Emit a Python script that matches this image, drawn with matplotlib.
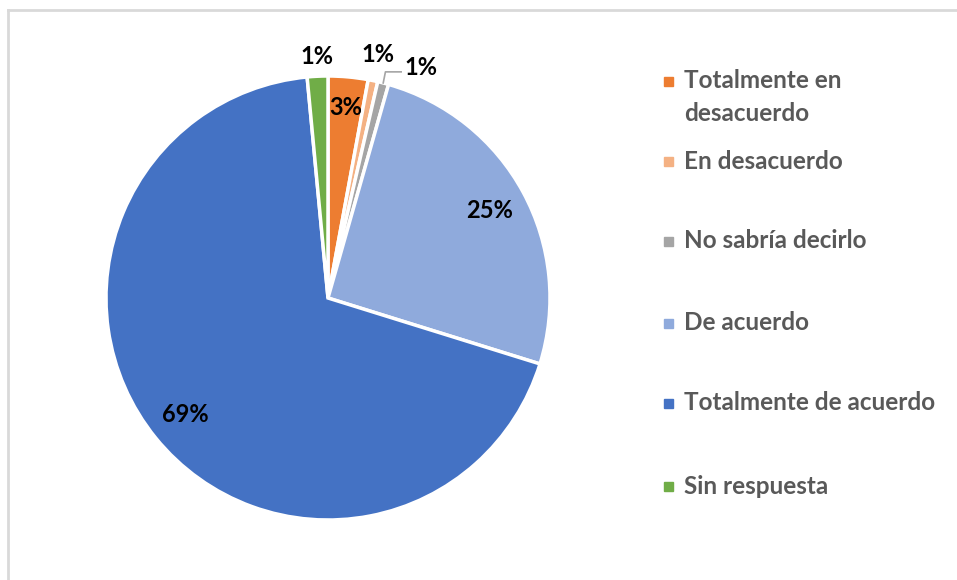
import numpy as np
import matplotlib.pyplot as plt
from matplotlib.patches import Rectangle
from matplotlib.lines import Line2D

# Data
categories = ["Totalmente en\ndesacuerdo", "En desacuerdo", "No sabría decirlo",
              "De acuerdo", "Totalmente de acuerdo", "Sin respuesta"]
values = [2.9, 0.7, 0.8, 25.4, 68.7, 1.5]
pct_labels = ["3%", "1%", "1%", "25%", "69%", "1%"]
colors = ["#ED7D31", "#F4B183", "#A5A5A5", "#8FAADC", "#4472C4", "#70AD47"]

plt.rcParams['font.family'] = ['Lato', 'DejaVu Sans']

W, H = 957, 580
fig = plt.figure(figsize=(W / 100, H / 100), dpi=100)

# light grey frame (only top/left visible in the crop)
fig.add_artist(Line2D([8 / W, 8 / W], [0, 1 - 10 / H], color="#D9D9D9", lw=2, transform=fig.transFigure))
fig.add_artist(Line2D([8 / W, 1], [1 - 10 / H, 1 - 10 / H], color="#D9D9D9", lw=2, transform=fig.transFigure))

cx, cy, r = 328, 298, 222
ax = fig.add_axes([(cx - r) / W, (H - cy - r) / H, 2 * r / W, 2 * r / H])
wedges, _ = ax.pie(values, colors=colors, startangle=90, counterclock=False,
                   wedgeprops=dict(edgecolor="white", linewidth=2.5))
ax.set_xlim(-1, 1)
ax.set_ylim(-1, 1)
ax.set_aspect("equal")
ax.axis("off")

# data labels
label_r = [0.86, 1.12, 1.12, 0.83, 0.83, 1.09]
for i, w in enumerate(wedges):
    ang = np.deg2rad((w.theta1 + w.theta2) / 2)
    if i == 2:
        # label pushed aside with a leader line
        ex, ey = np.cos(ang), np.sin(ang)
        tx, ty = np.cos(np.deg2rad(68)) * 1.12, np.sin(np.deg2rad(68)) * 1.12
        ax.plot([ex, ex + 0.01, tx - 0.09], [ey, ey + 0.05, ey + 0.05],
                color="#A5A5A5", lw=1.2, clip_on=False)
        ax.text(tx, ty, pct_labels[i], ha="center", va="center",
                fontsize=17, fontweight="bold", color="black")
        continue
    ax.text(label_r[i] * np.cos(ang), label_r[i] * np.sin(ang), pct_labels[i],
            ha="center", va="center", fontsize=17, fontweight="bold", color="black")

# legend drawn by hand to match Excel spacing
legend_y = [97, 161, 241, 323, 403, 486]
marker_y = [81, 161, 241, 323, 403, 486]
for lab, col, ty, my in zip(categories, colors, legend_y, marker_y):
    fig.add_artist(Rectangle(((664) / W, (H - my - 5) / H), 9 / W, 9 / H,
                             color=col, transform=fig.transFigure))
    fig.text(684 / W, (H - ty) / H, lab, ha="left", va="center", fontsize=17.5,
             fontweight="bold", color="#595959", linespacing=1.5)

fig.savefig("out.png", dpi=100)
